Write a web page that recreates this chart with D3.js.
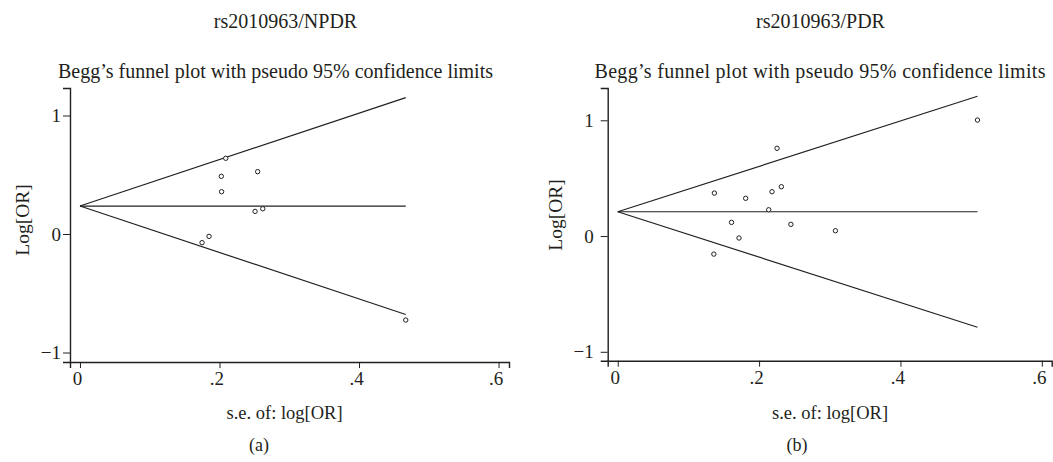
<!DOCTYPE html>
<html>
<head>
<meta charset="utf-8">
<script src="https://cdn.jsdelivr.net/npm/d3@7"></script>
<style>
  body { margin: 0; background: #fff; }
  text { font-family: "Liberation Serif", "DejaVu Serif", serif; fill: #231f20; }
  .axis path, .axis line { stroke: #231f20; }
</style>
</head>
<body>
<div id="chart"></div>
<script>
// study standard errors and log odds ratios
var seA    = [0.209, 0.2026, 0.2547, 0.203, 0.251, 0.262, 0.185, 0.175, 0.467];
var logOrA = [0.639, 0.487, 0.526, 0.357, 0.191, 0.213, -0.020, -0.073, -0.726];
var pooledA = 0.236;

var seB    = [0.509, 0.2254, 0.2315, 0.2183, 0.1367, 0.181, 0.2136, 0.161, 0.245, 0.308, 0.1716, 0.136];
var logOrB = [1.002, 0.758, 0.426, 0.383, 0.371, 0.326, 0.227, 0.118, 0.101, 0.046, -0.017, -0.156];
var pooledB = 0.21;

var xTicks = [0, 0.2, 0.4, 0.6],
    xTickLabels = ["0", ".2", ".4", ".6"];
var yTicks = [-1, 0, 1],
    yTickLabels = ["\u22121", "0", "1"];

var svg = d3.select("#chart").append("svg")
    .attr("width", 1053)
    .attr("height", 462);

var panels = [
  { se: seA, lor: logOrA, pooled: pooledA, top: "rs2010963/NPDR", tag: "(a)",
    xr: [70, 509], yr: [362, 88], xd: [-0.0143, 0.615], yd: [-1.08, 1.232],
    topX: 285.5, titleX: 275.5, titleW: 435, xlabX: 284.5, tagX: 259, ylabX: 22, ylabY: 220, ypad: 2, ytick: 7 },
  { se: seB, lor: logOrB, pooled: pooledB, top: "rs2010963/PDR", tag: "(b)",
    xr: [607.7, 1051.7], yr: [360.7, 88], xd: [-0.0142, 0.614], yd: [-1.077, 1.279],
    topX: 820.5, titleX: 820, titleW: 451, xlabX: 830, tagX: 797, ylabX: 555, ylabY: 215, ypad: 7, ytick: 7 }
];

panels.forEach(function(p) {
  var x = d3.scaleLinear().domain(p.xd).range(p.xr),
      y = d3.scaleLinear().domain(p.yd).range(p.yr);

  var g = svg.append("g");

  g.append("text")
    .attr("x", p.topX).attr("y", 28)
    .attr("text-anchor", "middle")
    .style("font-size", "20px")
    .text(p.top);

  g.append("text")
    .attr("x", p.titleX).attr("y", 78)
    .attr("text-anchor", "middle")
    .attr("textLength", p.titleW)
    .style("font-size", "20px")
    .text("Begg\u2019s funnel plot with pseudo 95% confidence limits");

  var xAxis = g.append("g")
    .attr("class", "axis")
    .attr("transform", "translate(0," + p.yr[0] + ")")
    .call(d3.axisBottom(x).tickValues(xTicks).tickSizeOuter(0).tickSize(6).tickPadding(4)
      .tickFormat(function(d, i) { return xTickLabels[i]; }));
  xAxis.select(".domain").attr("stroke-width", 1.4);
  xAxis.selectAll(".tick text")
    .attr("dx", -3)
    .style("font-size", "19px")
    .style("font-family", "Liberation Serif")
    .style("fill", "#231f20");

  var yAxis = g.append("g")
    .attr("class", "axis")
    .attr("transform", "translate(" + p.xr[0] + ",0)")
    .call(d3.axisLeft(y).tickValues(yTicks).tickSizeOuter(0).tickSize(p.ytick).tickPadding(p.ypad)
      .tickFormat(function(d, i) { return yTickLabels[i]; }));
  yAxis.select(".domain").attr("stroke-width", 1.4);
  yAxis.selectAll(".tick text")
    .style("font-size", "19px")
    .style("font-family", "Liberation Serif")
    .style("fill", "#231f20");

  g.append("text")
    .attr("x", p.xlabX).attr("y", 419)
    .attr("text-anchor", "middle")
    .style("font-size", "18.5px")
    .text("s.e. of: log[OR]");

  g.append("text")
    .attr("transform", "translate(" + p.ylabX + "," + p.ylabY + ") rotate(-90)")
    .attr("dy", "0.35em")
    .attr("text-anchor", "middle")
    .style("font-size", "19.5px")
    .text("Log[OR]");

  g.append("text")
    .attr("x", p.tagX).attr("y", 451)
    .attr("text-anchor", "middle")
    .style("font-size", "18px")
    .text(p.tag);

  // pseudo 95% confidence limits
  var maxSe = d3.max(p.se);
  var lines = [
    [[0, p.pooled], [maxSe, p.pooled + 1.96 * maxSe]],
    [[0, p.pooled], [maxSe, p.pooled]],
    [[0, p.pooled], [maxSe, p.pooled - 1.96 * maxSe]]
  ];
  var line = d3.line()
    .x(function(d) { return x(d[0]); })
    .y(function(d) { return y(d[1]); });

  g.selectAll(".limit")
    .data(lines)
    .enter().append("path")
    .attr("class", "limit")
    .attr("fill", "none")
    .attr("stroke", "#231f20")
    .attr("stroke-width", 1.2)
    .attr("d", line);

  g.selectAll(".study")
    .data(p.se)
    .enter().append("circle")
    .attr("class", "study")
    .attr("cx", function(d) { return x(d); })
    .attr("cy", function(d, i) { return y(p.lor[i]); })
    .attr("r", 2.2)
    .attr("fill", "#fff")
    .attr("stroke", "#231f20")
    .attr("stroke-width", 1);
});
</script>
</body>
</html>
